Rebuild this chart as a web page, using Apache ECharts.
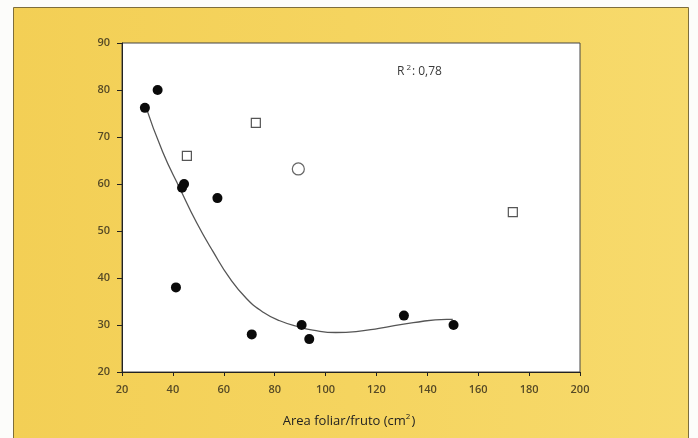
<!DOCTYPE html>
<html>
<head>
<meta charset="utf-8">
<script src="https://cdn.jsdelivr.net/npm/echarts@6/dist/echarts.min.js"></script>
<style>html,body{margin:0;padding:0;background:#fcfcfa;}#c{width:698px;height:438px;}</style>
</head>
<body>
<div id="c"></div>
<script>
// Filled circles (observed)
const filledX = [29, 34, 44.4, 43.6, 57.5, 41.2, 71, 90.6, 93.6, 130.8, 150.3];
const filledY = [76.2, 80, 60, 59.2, 57, 38, 28, 30, 27, 32, 30];
// Open squares
const squareX = [45.5, 72.6, 173.6];
const squareY = [66, 73, 54];
// Open circle
const circleX = [89.3];
const circleY = [63.2];
// Fitted curve
const curveX = [29, 36, 42.8, 49.3, 55.8, 62.4, 69, 75.5, 82, 90, 95, 104, 112, 121, 134.5, 147.6, 150];
const curveY = [77, 66.8, 59.0, 51.8, 45.6, 39.9, 35.6, 32.7, 30.9, 29.5, 28.9, 28.4, 28.6, 29.3, 30.5, 31.2, 31.2];
const xTicks = [20, 40, 60, 80, 100, 120, 140, 160, 180, 200];
const yTicks = [20, 30, 40, 50, 60, 70, 80, 90];
const r2Text = 'R²: 0,78';
const xTitle = 'Area foliar/fruto (cm²)';

const zip = (a, b) => a.map((v, i) => [v, b[i]]);

const chart = echarts.init(document.getElementById('c'), null, {renderer: 'canvas'});
const labelColor = '#564a26';
chart.setOption({
  animation: false,
  backgroundColor: '#fcfcfa',
  graphic: [
    {
      type: 'rect', z: -10, silent: true,
      shape: {x: 13.5, y: 7.5, width: 675, height: 440},
      style: {
        fill: new echarts.graphic.LinearGradient(0, 0, 1, 0, [
          {offset: 0, color: '#f3cf55'},
          {offset: 0.5, color: '#f5d45f'},
          {offset: 1, color: '#f7da6c'}
        ]),
        stroke: '#7d6d3c', lineWidth: 1
      }
    },
    {
      type: 'text', left: 397, top: 64, z: 10,
      style: {
        text: '{a|R}{s|2}{a|: 0,78}',
        rich: {
          a: {fontFamily: 'Open Sans', fontSize: 12, fill: '#3a3a3a'},
          s: {fontFamily: 'Open Sans', fontSize: 8, fill: '#3a3a3a', padding: [0, 1, 7, 2]}
        }
      }
    },
    {
      type: 'text', left: 'center', top: 413, z: 10,
      style: {
        text: '{a|Area foliar/fruto (cm}{s|2}{a|)}',
        rich: {
          a: {fontFamily: 'Open Sans', fontSize: 13, fill: '#222'},
          s: {fontFamily: 'Open Sans', fontSize: 8, fill: '#222', padding: [0, 1, 8, 0]}
        }
      }
    }
  ],
  grid: {
    left: 122, right: 118, top: 43, bottom: 66,
    show: true, backgroundColor: '#ffffff', borderColor: '#444', borderWidth: 1
  },
  xAxis: {
    type: 'value', min: xTicks[0], max: xTicks[xTicks.length - 1], interval: 20,
    axisLine: {show: true, lineStyle: {color: '#222', width: 1}},
    axisTick: {show: true, length: 4, lineStyle: {color: '#222'}},
    axisLabel: {margin: 12, color: labelColor, fontFamily: 'Open Sans', fontSize: 11, fontWeight: 600},
    splitLine: {show: false}
  },
  yAxis: {
    type: 'value', min: yTicks[0], max: yTicks[yTicks.length - 1], interval: 10,
    axisLine: {show: true, lineStyle: {color: '#222', width: 1}},
    axisTick: {show: true, length: 5, lineStyle: {color: '#222'}},
    axisLabel: {margin: 12, color: labelColor, fontFamily: 'Open Sans', fontSize: 11, fontWeight: 600},
    splitLine: {show: false}
  },
  series: [
    {
      type: 'line', data: zip(curveX, curveY), smooth: 0.5, showSymbol: false, symbol: 'none',
      lineStyle: {color: '#555', width: 1.3}, z: 2
    },
    {
      type: 'scatter', data: zip(filledX, filledY), symbol: 'circle', symbolSize: 10,
      itemStyle: {color: '#0a0a0a', opacity: 1}, z: 3
    },
    {
      type: 'scatter', data: zip(squareX, squareY), symbol: 'rect', symbolSize: 9,
      itemStyle: {color: '#ffffff', borderColor: '#555', borderWidth: 1.2, opacity: 1}, z: 3
    },
    {
      type: 'scatter', data: zip(circleX, circleY), symbol: 'circle', symbolSize: 12,
      itemStyle: {color: '#ffffff', borderColor: '#666', borderWidth: 1.2, opacity: 1}, z: 3
    }
  ]
});
</script>
</body>
</html>
